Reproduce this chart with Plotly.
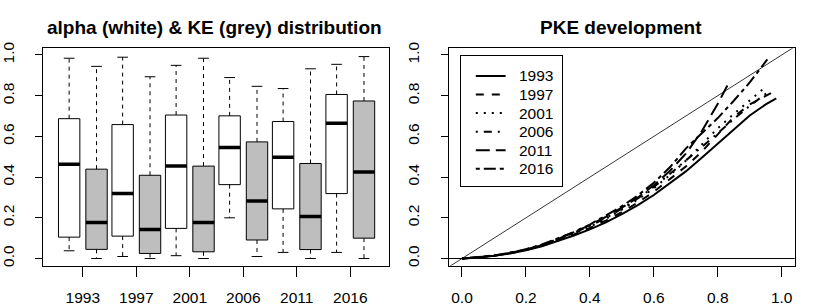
import plotly.graph_objects as go

# ---------------- data ----------------
years = ["1993", "1997", "2001", "2006", "2011", "2016"]

# alpha (white boxes)
alpha_lo = [0.038, 0.010, 0.014, 0.200, 0.030, 0.030]
alpha_q1 = [0.105, 0.110, 0.148, 0.363, 0.244, 0.319]
alpha_med = [0.463, 0.320, 0.455, 0.545, 0.497, 0.665]
alpha_q3 = [0.687, 0.658, 0.705, 0.701, 0.673, 0.806]
alpha_hi = [0.984, 0.989, 0.949, 0.889, 0.835, 0.954]

# KE (grey boxes)
ke_lo = [0.0, 0.0, 0.0, 0.010, 0.0, 0.0]
ke_q1 = [0.045, 0.025, 0.033, 0.091, 0.044, 0.100]
ke_med = [0.177, 0.143, 0.177, 0.282, 0.206, 0.425]
ke_q3 = [0.439, 0.409, 0.454, 0.573, 0.467, 0.774]
ke_hi = [0.944, 0.893, 0.984, 0.846, 0.932, 0.992]

# PKE development curves
grid = [0, 0.05, 0.1, 0.15, 0.2, 0.25, 0.3, 0.35, 0.4, 0.45, 0.5,
        0.55, 0.6, 0.65, 0.7, 0.75, 0.8, 0.85, 0.9, 0.95]
pke_x = {
    "1993": grid + [0.983],
    "1997": grid + [0.983],
    "2001": grid[:19] + [0.94],
    "2006": grid[:19] + [0.955],
    "2011": grid[:17] + [0.83],
    "2016": grid[:19] + [0.955],
}
pke_y = {
    "1993": [0, 0.005, 0.013, 0.025, 0.040, 0.060, 0.086, 0.113, 0.143, 0.178, 0.218,
             0.262, 0.312, 0.368, 0.428, 0.495, 0.565, 0.638, 0.703, 0.757, 0.787],
    "1997": [0, 0.005, 0.014, 0.026, 0.042, 0.063, 0.090, 0.118, 0.150, 0.186, 0.228,
             0.275, 0.328, 0.388, 0.452, 0.525, 0.610, 0.695, 0.757, 0.800, 0.827],
    "2001": [0, 0.005, 0.014, 0.027, 0.043, 0.065, 0.092, 0.122, 0.156, 0.195, 0.240,
             0.290, 0.345, 0.410, 0.480, 0.558, 0.640, 0.710, 0.775, 0.830],
    "2006": [0, 0.005, 0.014, 0.027, 0.044, 0.066, 0.094, 0.125, 0.160, 0.200, 0.245,
             0.295, 0.352, 0.415, 0.482, 0.545, 0.615, 0.685, 0.750, 0.815],
    "2011": [0, 0.005, 0.014, 0.027, 0.044, 0.067, 0.096, 0.128, 0.164, 0.205, 0.250,
             0.300, 0.360, 0.430, 0.515, 0.625, 0.760, 0.850],
    "2016": [0, 0.006, 0.015, 0.028, 0.046, 0.069, 0.098, 0.130, 0.167, 0.210, 0.257,
             0.310, 0.372, 0.448, 0.540, 0.615, 0.690, 0.775, 0.865, 0.978],
}
pke_dash = {
    "1993": "solid",
    "1997": "8px,8px",
    "2001": "2px,6px",
    "2006": "2px,6px,8px,6px",
    "2011": "14px,6px",
    "2016": "4px,4px,12px,4px",
}

# ---------------- figure ----------------
FONT = "Liberation Sans, Arial, sans-serif"
W, H = 816, 306
fig = go.Figure()

offset = 0.256
half_w = 0.2
cap_w = 0.1


def add_box(xc, lo, q1, med, q3, hi, fill):
    fig.add_trace(go.Scatter(
        x=[xc - half_w, xc + half_w, xc + half_w, xc - half_w, xc - half_w],
        y=[q1, q1, q3, q3, q1], mode="lines", fill="toself", fillcolor=fill,
        line=dict(color="black", width=1), xaxis="x", yaxis="y",
        showlegend=False, hoverinfo="skip"))
    for a, b in ((q3, hi), (q1, lo)):
        fig.add_trace(go.Scatter(
            x=[xc, xc], y=[a, b], mode="lines",
            line=dict(color="black", width=1, dash="4px,4px"),
            xaxis="x", yaxis="y", showlegend=False, hoverinfo="skip"))
    for v in (hi, lo):
        fig.add_trace(go.Scatter(
            x=[xc - cap_w, xc + cap_w], y=[v, v], mode="lines",
            line=dict(color="black", width=1),
            xaxis="x", yaxis="y", showlegend=False, hoverinfo="skip"))
    fig.add_trace(go.Scatter(
        x=[xc - half_w, xc + half_w], y=[med, med], mode="lines",
        line=dict(color="black", width=3.5),
        xaxis="x", yaxis="y", showlegend=False, hoverinfo="skip"))


for i, yr in enumerate(years):
    g = i + 1
    add_box(g - offset, alpha_lo[i], alpha_q1[i], alpha_med[i], alpha_q3[i], alpha_hi[i], "white")
    add_box(g + offset, ke_lo[i], ke_q1[i], ke_med[i], ke_q3[i], ke_hi[i], "#BEBEBE")

# right panel: reference lines
xr2 = [-0.042, 1.041]
yr = [-0.036, 1.033]
fig.add_trace(go.Scatter(x=xr2, y=xr2, mode="lines", line=dict(color="black", width=0.8),
                         xaxis="x2", yaxis="y2", showlegend=False, hoverinfo="skip"))
fig.add_trace(go.Scatter(x=xr2, y=[0, 0], mode="lines", line=dict(color="black", width=1),
                         xaxis="x2", yaxis="y2", showlegend=False, hoverinfo="skip"))

for yr_ in years:
    fig.add_trace(go.Scatter(
        x=pke_x[yr_], y=pke_y[yr_], mode="lines", name=yr_,
        line=dict(color="black", width=2, dash=pke_dash[yr_]),
        xaxis="x2", yaxis="y2", showlegend=False))

# ---- legend drawn in its own small axis (layout units: entry index) ----
leg_left, leg_right, leg_top, leg_bot = 459.0, 560.3, 50.3, 184.0
entry_first, entry_step = 71.0, 19.14
leg_w = leg_right - leg_left
y_top_idx = -(entry_first - leg_top) / entry_step
y_bot_idx = (leg_bot - entry_first) / entry_step
samp_a, samp_b, text_x = 14.7, 44.7, 56.0
annotations = []
for k, yr_ in enumerate(years):
    fig.add_trace(go.Scatter(
        x=[samp_a, samp_b], y=[k, k], mode="lines",
        line=dict(color="black", width=2, dash=pke_dash[yr_]),
        xaxis="x3", yaxis="y3", showlegend=False, hoverinfo="skip"))
    annotations.append(dict(text=yr_, x=text_x, y=k, xref="x3", yref="y3",
                            showarrow=False, xanchor="left", yanchor="middle",
                            font=dict(family=FONT, size=15.5, color="black")))

ytop, ybot = 42.5, 266.7
ydom = [(H - ybot) / H, (H - ytop) / H]

tickfont = dict(family=FONT, size=15.5, color="black")
common_axis = dict(showline=True, linecolor="black", linewidth=1, mirror=True,
                   showgrid=False, zeroline=False, ticks="outside", tickcolor="black",
                   tickfont=tickfont)
ticks01 = [0, 0.2, 0.4, 0.6, 0.8, 1.0]
ticks01_txt = ["0.0", "0.2", "0.4", "0.6", "0.8", "1.0"]

annotations += [
    dict(text="<b>alpha (white) &amp; KE (grey) distribution</b>", x=210.5 / W,
         y=(H - 21) / H, xref="paper", yref="paper", showarrow=False,
         xanchor="center", yanchor="middle",
         font=dict(family=FONT, size=19, color="black")),
    dict(text="<b>PKE development</b>", x=619.5 / W,
         y=(H - 21) / H, xref="paper", yref="paper", showarrow=False,
         xanchor="center", yanchor="middle",
         font=dict(family=FONT, size=19, color="black")),
]

fig.update_layout(
    width=W, height=H, autosize=False,
    margin=dict(l=0, r=0, t=0, b=0),
    paper_bgcolor="white", plot_bgcolor="white",
    font=dict(family=FONT, color="black"),
    showlegend=False,
    xaxis=dict(domain=[38.5 / W, 386.7 / W], range=[0.26, 6.73],
               tickmode="array", tickvals=[1, 2, 3, 4, 5, 6], ticktext=years,
               ticklen=10, ticklabelstandoff=8, anchor="y", **common_axis),
    yaxis=dict(domain=ydom, range=yr, tickmode="array",
               tickvals=ticks01, ticktext=ticks01_txt,
               tickangle=-90, ticklen=7, ticklabelstandoff=15, anchor="x", **common_axis),
    xaxis2=dict(domain=[446.3 / W, 794.7 / W], range=xr2, tickmode="array",
                tickvals=ticks01, ticktext=ticks01_txt,
                ticklen=10, ticklabelstandoff=8, anchor="y2", **common_axis),
    yaxis2=dict(domain=ydom, range=yr, tickmode="array",
                tickvals=ticks01, ticktext=ticks01_txt,
                tickangle=-90, ticklen=7, ticklabelstandoff=15, anchor="x2", **common_axis),
    xaxis3=dict(domain=[leg_left / W, leg_right / W], range=[0, leg_w],
                showline=True, linecolor="black", linewidth=1, mirror=True,
                showgrid=False, zeroline=False, showticklabels=False, ticks="",
                anchor="y3", fixedrange=True),
    yaxis3=dict(domain=[(H - leg_bot) / H, (H - leg_top) / H],
                range=[y_bot_idx, y_top_idx],
                showline=True, linecolor="black", linewidth=1, mirror=True,
                showgrid=False, zeroline=False, showticklabels=False, ticks="",
                anchor="x3", fixedrange=True),
    annotations=annotations,
)

fig.write_html("out.html", config={"displayModeBar": False},
               post_script="document.body.style.margin='0px';document.body.style.overflow='hidden';")
